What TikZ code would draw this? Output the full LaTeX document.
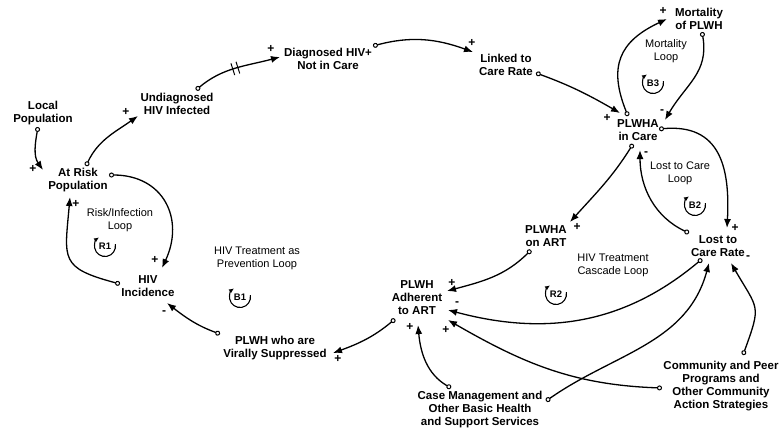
\documentclass[tikz,border=0pt]{standalone}
\usepackage{fontspec}
\setmainfont{Liberation Sans}
\usetikzlibrary{arrows.meta}
\begin{document}
\begin{tikzpicture}[x=1pt,y=1pt,
  var/.style={font=\bfseries\fontsize{11.5}{13}\selectfont, align=center, inner sep=0pt},
  looplbl/.style={font=\fontsize{11}{13}\selectfont, align=center, inner sep=0pt, text=black},
  loopsym/.style={font=\bfseries\fontsize{9.5}{10}\selectfont, inner sep=0pt},
  pol/.style={font=\bfseries\fontsize{12}{12}\selectfont, inner sep=0pt},
  link/.style={line width=1.3pt, {Circle[open,length=5pt,width=5pt,line width=1pt]}-{Latex[length=9pt,width=7pt]}},
  loopar/.style={line width=1.1pt, -{Latex[length=5pt,width=4.5pt]}},
  delaybox/.style={minimum width=4pt, minimum height=11pt, inner sep=0pt}
]
\useasboundingbox (0,-432) rectangle (780,0);

% variables
\node[var] (loc) at (43,-113) {Local\\Population};
\node[var] (risk) at (78,-180) {At Risk\\Population};
\node[var] (undiag) at (177,-104) {Undiagnosed\\HIV Infected};
\node[var] (diag) at (328,-59) {Diagnosed HIV+\\Not in Care};
\node[var] (linked) at (506,-65) {Linked to\\Care Rate};
\node[var] (mort) at (699,-19) {Mortality\\of PLWH};
\node[var] (care) at (638,-130) {PLWHA\\in Care};
\node[var] (lost) at (718,-246) {Lost to\\Care Rate};
\node[var] (onart) at (546,-236) {PLWHA\\on ART};
\node[var] (adh) at (417,-298) {PLWH\\Adherent\\to ART};
\node[var] (vir) at (275,-348) {PLWH who are\\Virally Suppressed};
\node[var] (inc) at (148,-286) {HIV\\Incidence};
\node[var] (case) at (480,-410) {Case Management and\\Other Basic Health\\and Support Services};
\node[var] (comm) at (721,-386) {Community and Peer\\Programs and\\Other Community\\Action Strategies};

% loop labels
\node[looplbl] (l1) at (120,-220) {Risk/Infection\\Loop};
\node[looplbl] (l2) at (257,-258) {HIV Treatment as\\Prevention Loop};
\node[looplbl] (l3) at (666,-51) {Mortality\\Loop};
\node[looplbl] (l4) at (680,-173) {Lost to Care\\Loop};
\node[looplbl] (l5) at (613,-265) {HIV Treatment\\Cascade Loop};

% loop symbols
\node[loopsym] (r1) at (105,-246) {R1};
\draw[loopar] ([shift={(10:10.5)}]r1.center) arc[start angle=10, end angle=-235, radius=10.5pt];
\node[loopsym] (b1) at (240,-297) {B1};
\draw[loopar] ([shift={(10:10.5)}]b1.center) arc[start angle=10, end angle=-235, radius=10.5pt];
\node[loopsym] (b3) at (653,-83) {B3};
\draw[loopar] ([shift={(10:10.5)}]b3.center) arc[start angle=10, end angle=-235, radius=10.5pt];
\node[loopsym] (b2) at (695,-205) {B2};
\draw[loopar] ([shift={(10:10.5)}]b2.center) arc[start angle=10, end angle=-235, radius=10.5pt];
\node[loopsym] (r2) at (556,-294) {R2};
\draw[loopar] ([shift={(10:10.5)}]r2.center) arc[start angle=10, end angle=-235, radius=10.5pt];

% connectors
\draw[link] ([shift={(-5,-14)}]loc.center) to[out=-100,in=125] ([shift={(-35,10)}]risk.center);
\draw[link] ([shift={(8,14)}]risk.center) to[out=65,in=-145] ([shift={(-39,-12)}]undiag.center);
\draw[link] ([shift={(19,14)}]undiag.center) to[out=40,in=-165] node[pos=0.5, sloped, delaybox] (dm) {} ([shift={(-48,2)}]diag.center);
\draw[line width=1pt] (dm.north west) -- (dm.south west) (dm.north east) -- (dm.south east);
\draw[link] ([shift={(45,13)}]diag.center) to[out=15,in=160] ([shift={(-33,13)}]linked.center);
\draw[link] ([shift={(30,-8)}]linked.center) to[out=-20,in=150] ([shift={(-18,17)}]care.center);
\draw[link] ([shift={(-10,14)}]care.center) to[out=112,in=-155,looseness=1.3] ([shift={(-32,0)}]mort.center);
\draw[link] ([shift={(3,-13)}]mort.center) to[out=-80,in=60,looseness=1.1] ([shift={(27,10)}]care.center);
\draw[link] ([shift={(21,1)}]care.center) to[out=5,in=87,looseness=1.3] ([shift={(9,18)}]lost.center);
\draw[link] ([shift={(-29,13)}]lost.center) to[out=155,in=-90] ([shift={(2,-20)}]care.center);
\draw[link] ([shift={(-5,-14)}]care.center) to[out=-122,in=48] ([shift={(24,14)}]onart.center);
\draw[link] ([shift={(-15,-14)}]onart.center) to[out=-135,in=15] ([shift={(30,7)}]adh.center);
\draw[link] ([shift={(-16,-13)}]lost.center) to[out=-140,in=-15] ([shift={(31,-12)}]adh.center);
\draw[link] ([shift={(66,9)}]case.center) to[out=35,in=-105] ([shift={(-9,-17)}]lost.center);
\draw[link] ([shift={(-29,22)}]case.center) to[out=150,in=-85] ([shift={(1,-27)}]adh.center);
\draw[link] ([shift={(-59,-2)}]comm.center) to[out=178,in=-30] ([shift={(31,-22)}]adh.center);
\draw[link] ([shift={(22,31)}]comm.center) to[out=70,in=-60,looseness=1.5] ([shift={(13,-17)}]lost.center);
\draw[link] ([shift={(-22,-21)}]adh.center) to[out=-140,in=20] ([shift={(58,-5)}]vir.center);
\draw[link] ([shift={(-55,14)}]vir.center) to[out=160,in=-38] ([shift={(19,-17)}]inc.center);
\draw[link] ([shift={(-28,2)}]inc.center) to[out=165,in=-95,looseness=1.6] ([shift={(-8,-17)}]risk.center);
\draw[link] ([shift={(31,5)}]risk.center) to[out=0,in=65,looseness=1.3] ([shift={(14,18)}]inc.center);

% polarities
\node[pol] (s1) at (33,-169) {+};
\node[pol] (s2) at (126,-112) {+};
\node[pol] (s3) at (271,-49) {+};
\node[pol] (s4) at (472,-43) {+};
\node[pol] (s5) at (607,-118) {+};
\node[pol] (s6) at (663,-11) {+};
\node[pol] (s7) at (662,-112) {-};
\node[pol] (s8) at (735,-228) {+};
\node[pol] (s9) at (646,-154) {-};
\node[pol] (s10) at (577,-227) {+};
\node[pol] (s11) at (452,-283) {+};
\node[pol] (s12) at (457,-304) {-};
\node[pol] (s14) at (410,-327) {+};
\node[pol] (s15) at (446,-330) {+};
\node[pol] (s16) at (748,-258) {-};
\node[pol] (s17) at (338,-359) {+};
\node[pol] (s18) at (164,-313) {-};
\node[pol] (s19) at (76,-204) {+};
\node[pol] (s20) at (155,-260) {+};
\end{tikzpicture}
\end{document}
